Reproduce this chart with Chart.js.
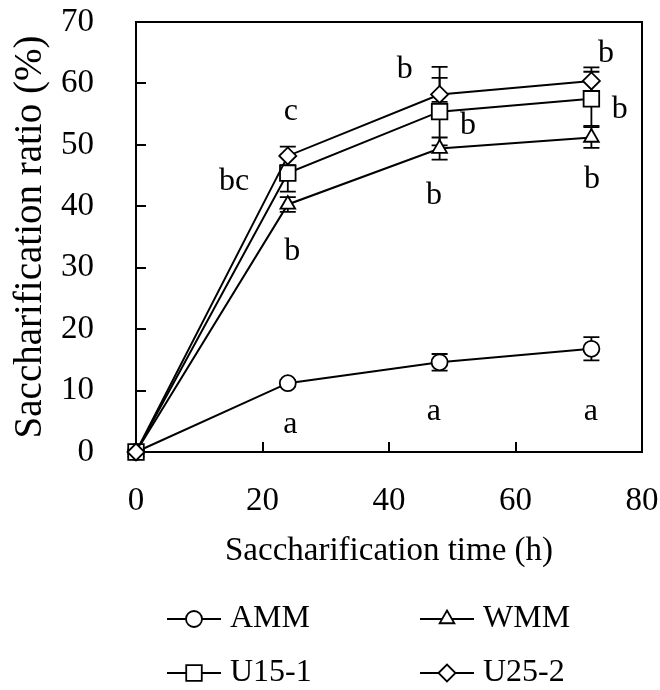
<!DOCTYPE html>
<html>
<head>
<meta charset="utf-8">
<script src="https://cdn.jsdelivr.net/npm/chart.js@4.4.1/dist/chart.umd.min.js"></script>
<style>
  html, body { margin: 0; padding: 0; background: #fff; }
  #wrap { width: 660px; height: 690px; }
</style>
</head>
<body>
<div id="wrap"><canvas id="chart" width="660" height="690"></canvas></div>
<script>
// saccharification time (h)
var times = [0, 24, 48, 72];

// mean saccharification ratio (%) and error bars (up / down)
var ammMean  = [0, 11.2, 14.6, 16.8];
var ammUp    = [0, 0.5, 1.35, 1.9];
var ammDown  = [0, 0.5, 1.35, 1.9];
var wmmMean  = [0, 40.3, 49.4, 51.2];
var wmmUp    = [0, 1.2, 1.8, 1.7];
var wmmDown  = [0, 1.2, 1.8, 1.7];
var u151Mean = [0, 45.4, 55.4, 57.5];
var u151Up   = [0, 3.0, 5.5, 4.4];
var u151Down = [0, 3.0, 5.5, 4.4];
var u252Mean = [0, 48.2, 58.2, 60.4];
var u252Up   = [0, 1.5, 4.5, 2.2];
var u252Down = [0, 1.5, 1.2, 2.2];

// significance letters (x in h, y in %)
var letterText = ['c', 'bc', 'b', 'b', 'b', 'b', 'b', 'b', 'b', 'a', 'a', 'a'];
var letterX = [24.5, 15.5, 24.7, 42.5, 52.5, 47.1, 74.3, 76.5, 72.1, 24.4, 47.1, 71.9];
var letterY = [55.4, 44.0, 32.6, 62.2, 53.2, 41.8, 64.9, 55.7, 44.3, 4.4, 6.6, 6.6];

var xTicks = [0, 20, 40, 60, 80];
var yTicks = [0, 10, 20, 30, 40, 50, 60, 70];

var SERIF = '"Liberation Serif", "Times New Roman", serif';

function pts(mean) {
  return times.map(function(t, i) { return { x: t, y: mean[i] }; });
}

var series = [
  { label: 'AMM',   mean: ammMean,  up: ammUp,  down: ammDown,  style: 'circle',   r: 8,    order: 3 },
  { label: 'WMM',   mean: wmmMean,  up: wmmUp,  down: wmmDown,  style: 'triangle', r: 8.5,  order: 2 },
  { label: 'U15-1', mean: u151Mean, up: u151Up, down: u151Down, style: 'rect',     r: 11,   order: 1 },
  { label: 'U25-2', mean: u252Mean, up: u252Up, down: u252Down, style: 'rectRot',  r: 8.5,  order: 0 }
];

// frame, inward ticks and error bars under the markers
var underPlugin = {
  id: 'under',
  beforeDatasetsDraw: function(chart) {
    var ctx = chart.ctx, a = chart.chartArea;
    var xs = chart.scales.x, ys = chart.scales.y;
    ctx.save();
    ctx.strokeStyle = '#000';
    ctx.lineWidth = 2;
    ctx.strokeRect(a.left, a.top, a.right - a.left, a.bottom - a.top);
    ctx.beginPath();
    yTicks.slice(1, -1).forEach(function(v) {
      var py = Math.round(ys.getPixelForValue(v));
      ctx.moveTo(a.left, py); ctx.lineTo(a.left + 10, py);
    });
    xTicks.slice(1, -1).forEach(function(v) {
      var px = Math.round(xs.getPixelForValue(v));
      ctx.moveTo(px, a.bottom); ctx.lineTo(px, a.bottom - 10);
    });
    ctx.stroke();

    ctx.lineWidth = 1.8;
    series.forEach(function(s) {
      times.forEach(function(t, i) {
        if (!s.up[i] && !s.down[i]) return;
        var px = xs.getPixelForValue(t);
        var hi = ys.getPixelForValue(s.mean[i] + s.up[i]);
        var lo = ys.getPixelForValue(s.mean[i] - s.down[i]);
        ctx.beginPath();
        ctx.moveTo(px, hi); ctx.lineTo(px, lo);
        ctx.moveTo(px - 8, hi); ctx.lineTo(px + 8, hi);
        ctx.moveTo(px - 8, lo); ctx.lineTo(px + 8, lo);
        ctx.stroke();
      });
    });
    ctx.restore();
  },
  afterDraw: function(chart) {
    var ctx = chart.ctx;
    var xs = chart.scales.x, ys = chart.scales.y;
    ctx.save();
    ctx.fillStyle = '#000';
    ctx.font = '32px ' + SERIF;
    ctx.textAlign = 'center';
    ctx.textBaseline = 'middle';
    letterText.forEach(function(txt, i) {
      ctx.fillText(txt, xs.getPixelForValue(letterX[i]), ys.getPixelForValue(letterY[i]));
    });

    // legend: two columns, two rows
    var colX = [167, 420], rowY = [619, 673];
    series.forEach(function(s, i) {
      var x0 = colX[i % 2], y0 = rowY[Math.floor(i / 2)];
      ctx.strokeStyle = '#000';
      ctx.lineWidth = 2;
      ctx.beginPath();
      ctx.moveTo(x0, y0); ctx.lineTo(x0 + 54, y0);
      ctx.stroke();
      ctx.fillStyle = '#fff';
      ctx.lineWidth = 1.8;
      Chart.helpers.drawPoint(ctx, { pointStyle: s.style, radius: s.r, rotation: 0, borderWidth: 1.8 }, x0 + 27, y0);
      ctx.fillStyle = '#000';
      ctx.textAlign = 'left';
      ctx.fillText(s.label, x0 + 63, y0);
    });
    ctx.restore();
  }
};

new Chart(document.getElementById('chart'), {
  type: 'line',
  data: {
    datasets: series.map(function(s) {
      return {
        label: s.label,
        data: pts(s.mean),
        order: s.order,
        borderColor: '#000',
        borderWidth: 2,
        pointStyle: s.style,
        pointRadius: s.r,
        pointHoverRadius: s.r,
        pointBackgroundColor: '#fff',
        pointBorderColor: '#000',
        pointBorderWidth: 1.8,
        tension: 0,
        clip: false
      };
    })
  },
  options: {
    responsive: false,
    animation: false,
    devicePixelRatio: 1,
    layout: { padding: { top: 22, right: 18, left: 0, bottom: 0 } },
    plugins: { legend: { display: false }, tooltip: { enabled: false } },
    scales: {
      x: {
        type: 'linear',
        min: 0, max: 80,
        afterFit: function(s) { s.height = 238; s.paddingLeft = 0; s.paddingRight = 0; },
        grid: { display: false },
        border: { display: false },
        ticks: { stepSize: 20, color: '#000', padding: 22, font: { family: SERIF, size: 33 } },
        title: {
          display: true,
          text: 'Saccharification time (h)',
          color: '#000',
          font: { family: SERIF, size: 33 },
          padding: { top: 0, bottom: 119 }
        }
      },
      y: {
        min: 0, max: 70,
        afterFit: function(s) { s.width = 136; s.paddingTop = 0; s.paddingBottom = 0; },
        grid: { display: false },
        border: { display: false },
        ticks: { stepSize: 10, color: '#000', padding: 34, font: { family: SERIF, size: 33 } },
        title: {
          display: true,
          text: 'Saccharification ratio (%)',
          color: '#000',
          font: { family: SERIF, size: 39 },
          padding: { top: 7, bottom: 0 }
        }
      }
    }
  },
  plugins: [underPlugin]
});
</script>
</body>
</html>
